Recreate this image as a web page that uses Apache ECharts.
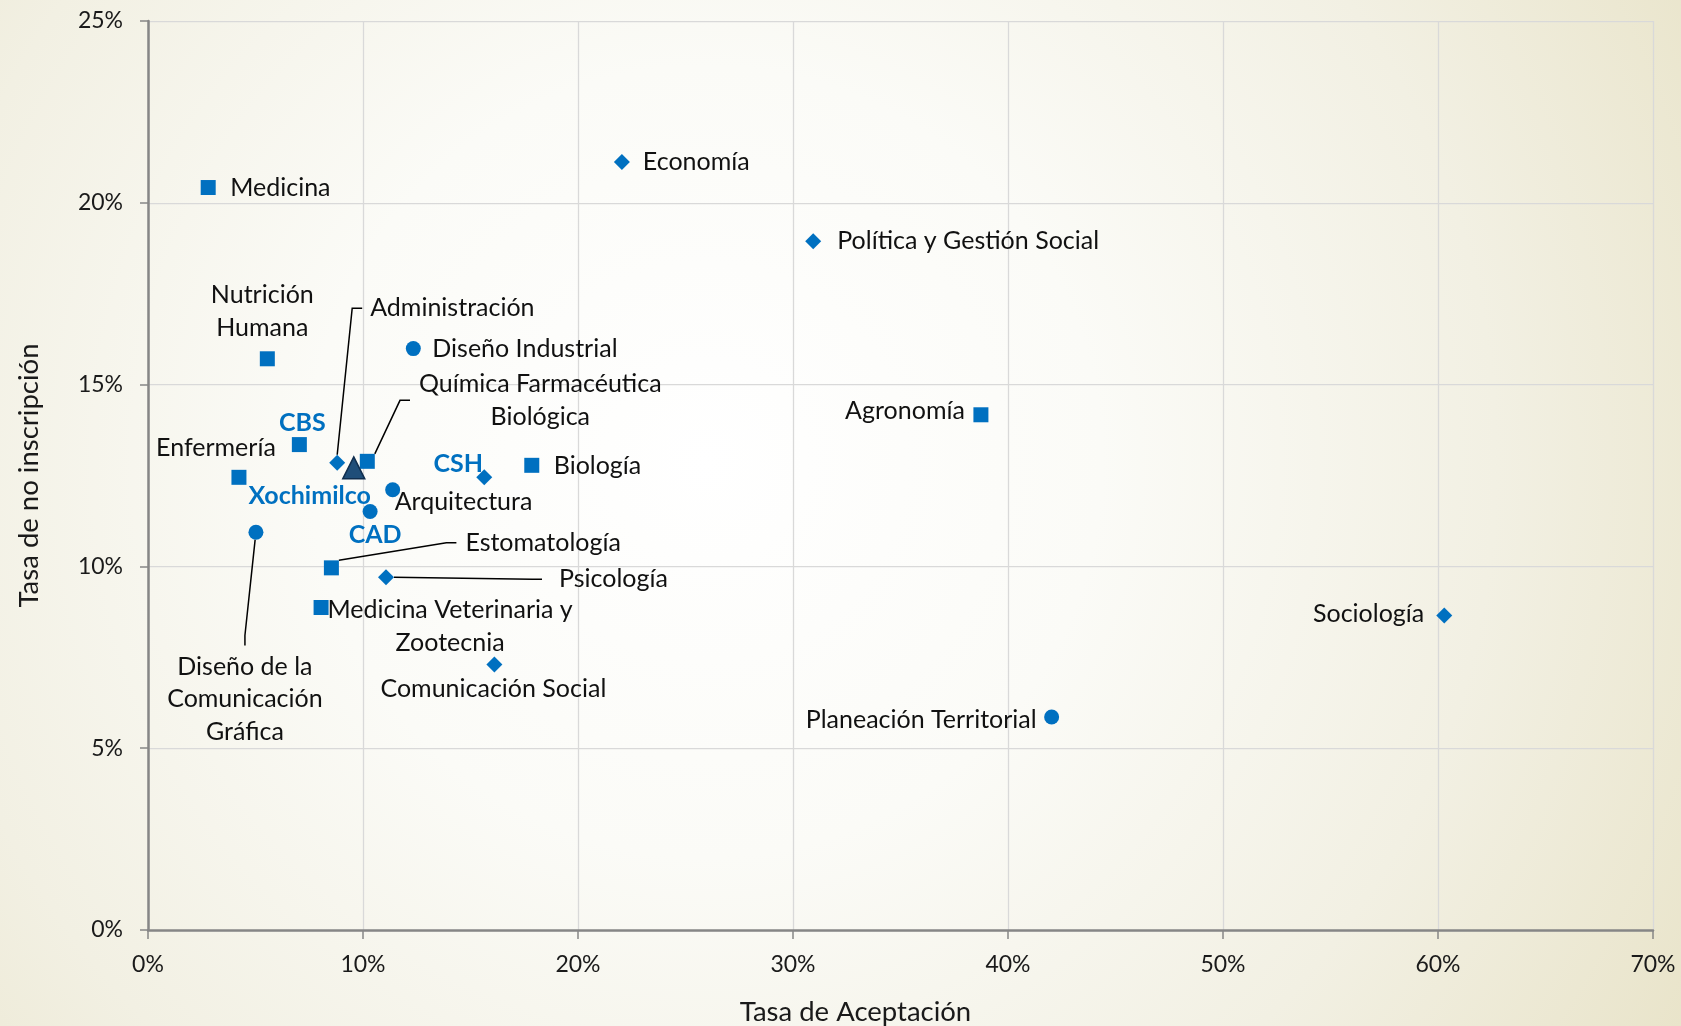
<!DOCTYPE html>
<html>
<head>
<meta charset="utf-8" />
<title>Tasa de Aceptación y Tasa de no inscripción</title>
<script src="https://cdn.jsdelivr.net/npm/echarts@6/dist/echarts.min.js"></script>
<style>
  html, body { margin: 0; padding: 0; }
  #main { width: 1681px; height: 1026px; }
</style>
</head>
<body>
<div id="main"></div>
<script>
// ejes (en %)
var xTicks = [0, 10, 20, 30, 40, 50, 60, 70];
var yTicks = [0, 5, 10, 15, 20, 25];

// División CBS (cuadrados)
var cbsNames = ['Medicina', 'Nutrición\nHumana', 'Enfermería', 'Estomatología',
  'Medicina Veterinaria y\nZootecnia', 'Química Farmacéutica\nBiológica', 'Biología', 'Agronomía', 'CBS'];
var cbsX = [2.80, 5.55, 4.23, 8.53, 8.05, 10.20, 17.85, 38.74, 7.04];
var cbsY = [20.42, 15.71, 12.45, 9.96, 8.87, 12.89, 12.78, 14.17, 13.35];

// División CSH (rombos)
var cshNames = ['Economía', 'Política y Gestión Social', 'Administración', 'Psicología',
  'Comunicación Social', 'Sociología', 'CSH'];
var cshX = [22.04, 30.94, 8.80, 11.07, 16.11, 60.29, 15.64];
var cshY = [21.12, 18.94, 12.85, 9.70, 7.30, 8.65, 12.45];

// División CAD (círculos)
var cadNames = ['Diseño Industrial', 'Arquitectura', 'Diseño de la\nComunicación\nGráfica',
  'Planeación Territorial', 'CAD'];
var cadX = [12.34, 11.38, 5.02, 42.03, 10.33];
var cadY = [15.99, 12.11, 10.94, 5.86, 11.51];

// Unidad Xochimilco (triángulo)
var xochNames = ['Xochimilco'];
var xochX = [9.57];
var xochY = [12.71];

var divisiones = ['CBS', 'CSH', 'CAD', 'Xochimilco'];

// colocación de etiquetas respecto al centro del marcador (px): [dx, dy, align, lado de la línea guía, hueco]
var labelPos = {
  'Medicina': [22, 0, 'left'],
  'Nutrición\nHumana': [-5, -47.5, 'center'],
  'Enfermería': [-23, -29.5, 'center'],
  'Estomatología': [134, -25, 'left', 'left', 9],
  'Medicina Veterinaria y\nZootecnia': [129, 19, 'center'],
  'Química Farmacéutica\nBiológica': [173, -61, 'center', 'left', 9],
  'Biología': [22, 1, 'left'],
  'Agronomía': [-16, -4, 'right'],
  'CBS': [3, -22, 'center'],
  'Economía': [21, 0, 'left'],
  'Política y Gestión Social': [24, -0.5, 'left'],
  'Administración': [33, -154.5, 'left', 'left', 8],
  'Psicología': [173, 2, 'left', 'left', 17],
  'Comunicación Social': [-1, 24, 'center'],
  'Sociología': [-20, -2, 'right'],
  'CSH': [-26, -13.5, 'center'],
  'Diseño Industrial': [19, 0, 'left'],
  'Arquitectura': [2, 12, 'left'],
  'Diseño de la\nComunicación\nGráfica': [-11, 172, 'center', 'top', 10],
  'Planeación Territorial': [-15, 3.5, 'right'],
  'CAD': [5, 23, 'center'],
  'Xochimilco': [-44, 28, 'center']
};

var FONT = 'Lato';
var BLUE = '#0070C0';

function buildData(names, xs, ys) {
  return names.map(function (n, i) {
    var item = { name: n, value: [xs[i], ys[i]] };
    var p = labelPos[n];
    if (p && p[3]) {
      item.labelLine = { show: true };
      item.label = {
        backgroundColor: 'rgba(0,0,0,0)',
        padding: p[3] === 'top' ? [p[4], 0, 0, 0] : [0, 0, 0, p[4]]
      };
    }
    return item;
  });
}

function placeLabel(params) {
  var p = labelPos[params.text];
  if (!p) return {};
  var cx = params.rect.x + params.rect.width / 2;
  var cy = params.rect.y + params.rect.height / 2;
  var x = cx + p[0], y = cy + p[1];
  if (p[3] === 'left') x -= (p[2] === 'left' ? p[4] : p[4] / 2);
  if (p[3] === 'top') y -= p[4] / 2;
  return { x: x, y: y, align: p[2], verticalAlign: 'middle' };
}

function makeSeries(name, names, xs, ys, symbol, size, color, border) {
  return {
    name: name,
    type: 'scatter',
    symbol: symbol,
    symbolSize: size,
    data: buildData(names, xs, ys),
    itemStyle: border ? { color: color, opacity: 1, borderColor: border, borderWidth: 1.5 }
                      : { color: color, opacity: 1 },
    label: {
      show: true,
      formatter: '{b}',
      fontFamily: FONT,
      fontSize: 25,
      lineHeight: 32.5,
      fontWeight: 'normal',
      color: '#111111'
    },
    labelLine: {
      show: false,
      length2: 10,
      lineStyle: { color: '#000000', width: 1.5 }
    },
    labelLayout: placeLabel,
    emphasis: { disabled: true },
    z: 3
  };
}

var series = [
  makeSeries(divisiones[0], cbsNames, cbsX, cbsY, 'rect', 15, BLUE),
  makeSeries(divisiones[1], cshNames, cshX, cshY, 'diamond', 16, BLUE),
  makeSeries(divisiones[2], cadNames, cadX, cadY, 'circle', 15, BLUE),
  makeSeries(divisiones[3], xochNames, xochX, xochY, 'triangle', 22, '#1F4E79', '#102E4E')
];

// etiquetas de los totales por división en azul y negritas
series.forEach(function (s) {
  s.data.forEach(function (d) {
    if (divisiones.indexOf(d.name) >= 0) {
      d.label = { fontWeight: 'bold', color: BLUE };
    }
  });
});

var axisName = { fontFamily: FONT, fontSize: 27.5, color: '#1a1a1a' };

var chart = echarts.init(document.getElementById('main'));
chart.setOption({
  animation: false,
  backgroundColor: {
    type: 'radial', x: 0.42, y: 0.45, r: 1.1,
    colorStops: [
      { offset: 0, color: '#FFFFFF' },
      { offset: 0.35, color: '#FBFBF7' },
      { offset: 0.7, color: '#F2F0E3' },
      { offset: 1, color: '#E9E4CA' }
    ]
  },
  grid: { left: 148, right: 28, top: 21, bottom: 96, containLabel: false, outerBoundsMode: 'none' },
  xAxis: {
    type: 'value',
    min: xTicks[0],
    max: xTicks[xTicks.length - 1],
    interval: xTicks[1] - xTicks[0],
    name: 'Tasa de Aceptación',
    nameLocation: 'middle',
    nameGap: 68,
    nameTextStyle: Object.assign({ padding: [0, 90, 0, 0] }, axisName),
    axisLine: { show: true, lineStyle: { color: '#868686', width: 2.5 } },
    axisTick: { show: true, length: 9, lineStyle: { color: '#868686', width: 1.5 } },
    axisLabel: { formatter: '{value}%', margin: 23, fontFamily: FONT, fontSize: 23, color: '#1a1a1a' },
    splitLine: { show: true, lineStyle: { color: '#D9D9D9', width: 1.25 } }
  },
  yAxis: {
    type: 'value',
    min: yTicks[0],
    max: yTicks[yTicks.length - 1],
    interval: yTicks[1] - yTicks[0],
    name: 'Tasa de no inscripción',
    nameLocation: 'middle',
    nameRotate: 90,
    nameGap: 105,
    nameTextStyle: axisName,
    axisLine: { show: true, lineStyle: { color: '#868686', width: 2.5 } },
    axisTick: { show: true, length: 8, lineStyle: { color: '#868686', width: 1.5 } },
    axisLabel: { formatter: '{value}%', margin: 25, fontFamily: FONT, fontSize: 23, color: '#1a1a1a' },
    splitLine: { show: true, lineStyle: { color: '#D9D9D9', width: 1.25 } }
  },
  series: series
});
</script>
</body>
</html>
